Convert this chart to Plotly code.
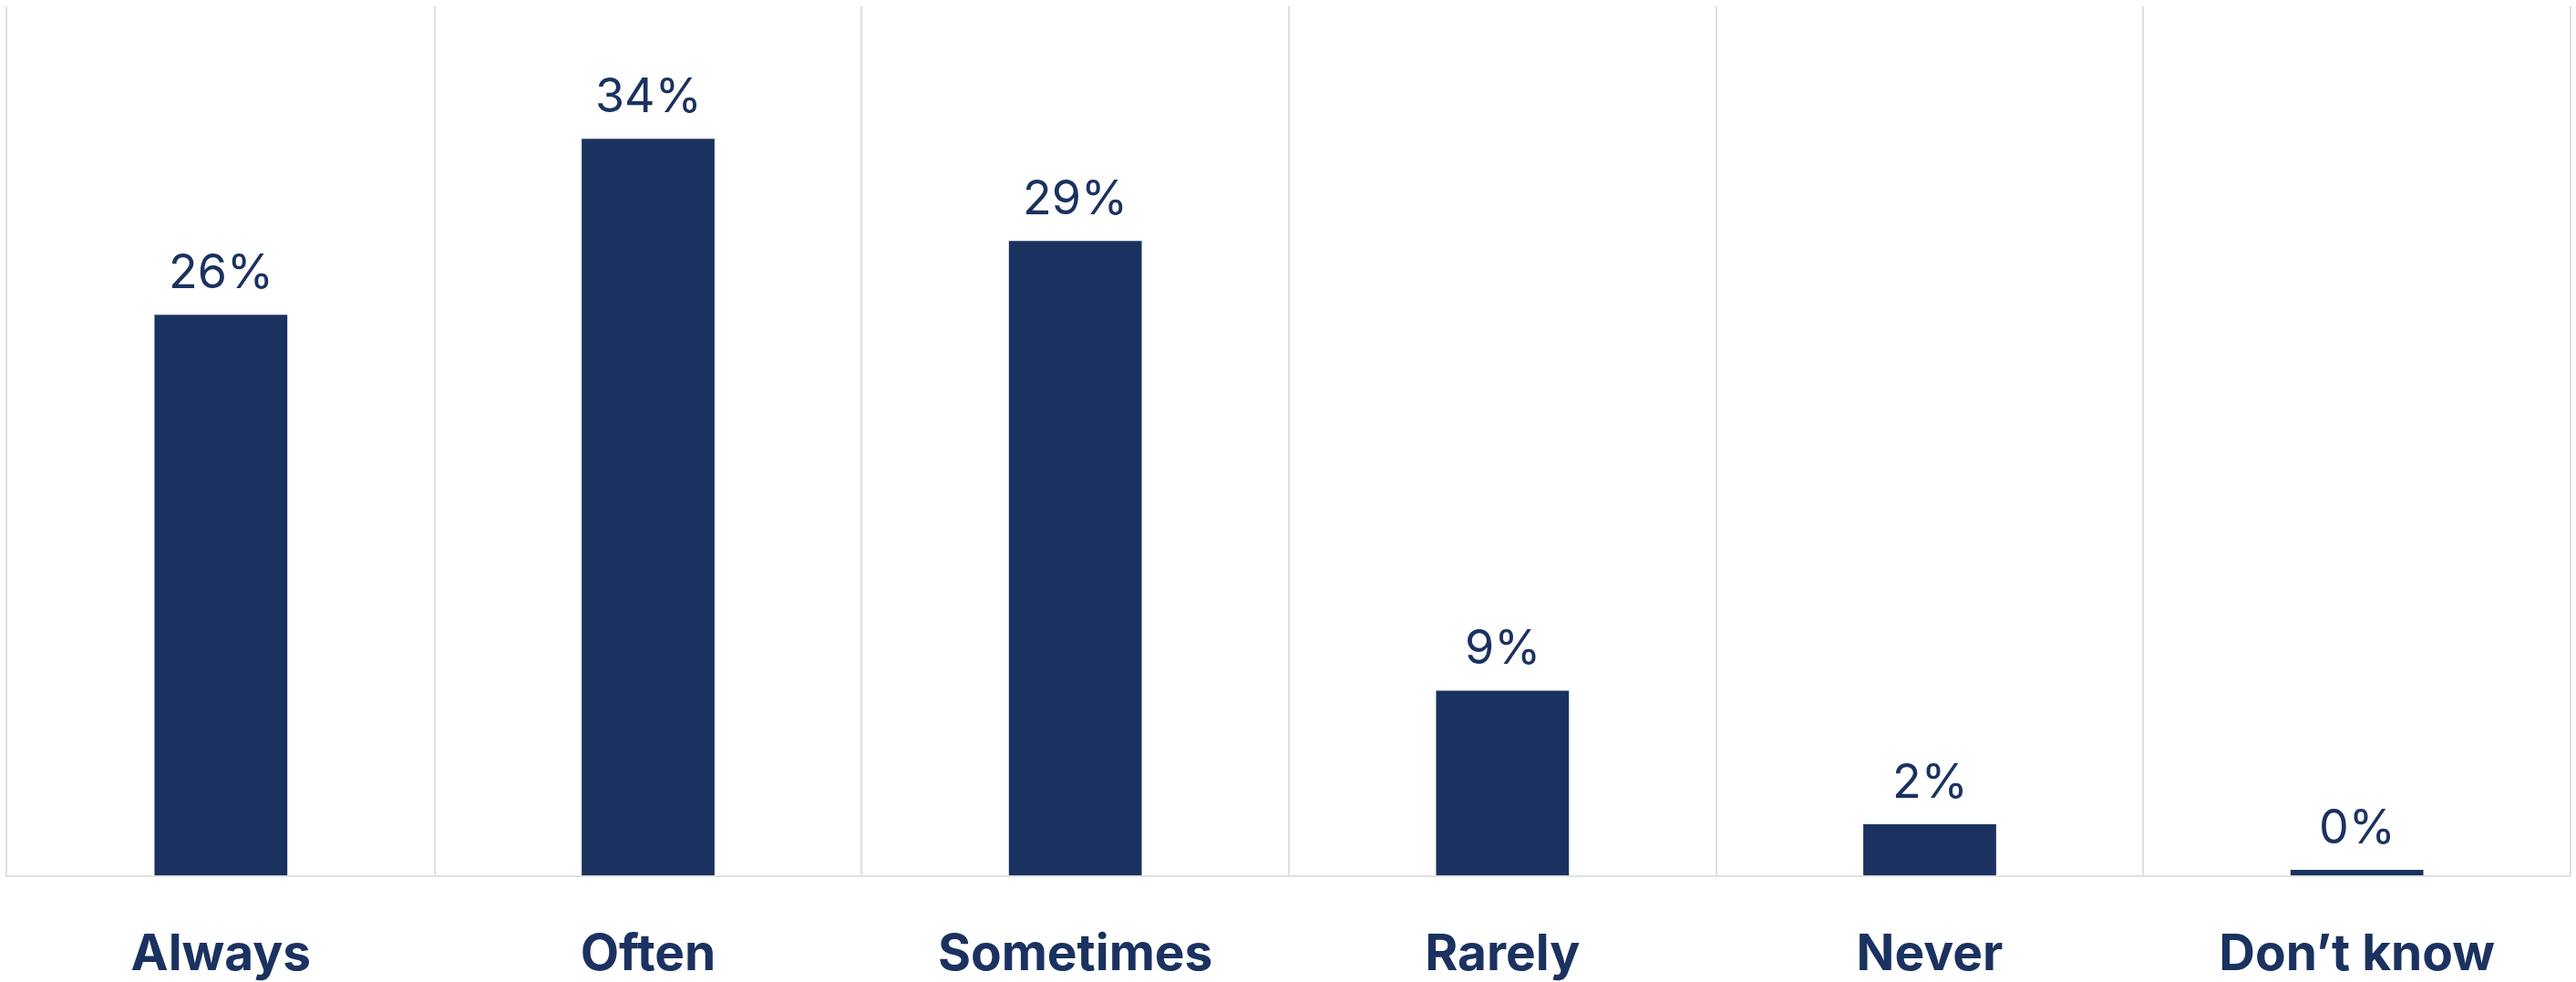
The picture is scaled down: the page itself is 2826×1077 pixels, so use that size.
import plotly.graph_objects as go

categories = ["Always", "Often", "Sometimes", "Rarely", "Never", "Don’t know"]
values = [25.8, 33.9, 29.2, 8.5, 2.35, 0.25]
value_labels = ["26%", "34%", "29%", "9%", "2%", "0%"]

NAVY = "#1B3260"
GRID = "#E0E0E0"
FONT = "Inter"

fig = go.Figure()
fig.add_trace(go.Bar(
    x=categories, y=values,
    marker=dict(color=NAVY, line=dict(width=0)),
    hoverinfo="skip",
))

for c, v, t in zip(categories, values, value_labels):
    fig.add_annotation(
        x=c, y=v, text=t, showarrow=False,
        yanchor="bottom", yshift=14,
        font=dict(family=FONT, size=52, color=NAVY),
    )

fig.update_layout(
    width=2826, height=1077,
    margin=dict(l=8, r=6, t=7, b=117, autoexpand=False),
    plot_bgcolor="white", paper_bgcolor="white",
    bargap=0.689,
    showlegend=False,
    font=dict(family=FONT, color=NAVY),
)
fig.update_xaxes(
    type="category",
    automargin=False,
    tickson="boundaries",
    showgrid=True, gridcolor=GRID, gridwidth=2,
    ticks="", ticklen=0,
    showline=True, linecolor=GRID, linewidth=2,
    tickfont=dict(family=FONT, size=55, color=NAVY, weight="bold"),
    ticklabelstandoff=36,
    range=[-0.5, 5.5],
)
fig.update_yaxes(
    range=[0, 40],
    automargin=False,
    showgrid=False, zeroline=False,
    showticklabels=False, ticks="",
    showline=True, linecolor=GRID, linewidth=2,
)
# right border line
fig.add_shape(type="line", xref="paper", yref="paper", x0=1, x1=1, y0=0, y1=1,
              line=dict(color=GRID, width=2), layer="below")

fig.write_html("out.html")
